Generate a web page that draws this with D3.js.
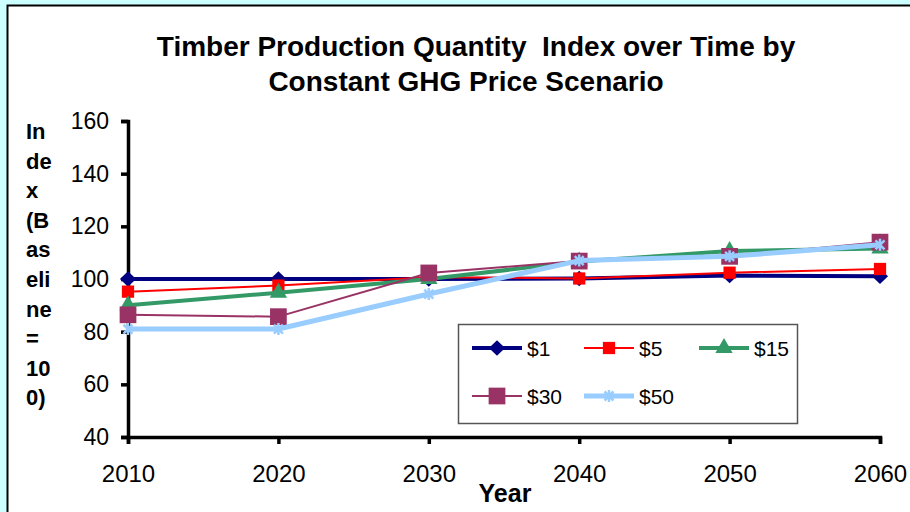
<!DOCTYPE html>
<html>
<head>
<meta charset="utf-8">
<script src="https://cdn.jsdelivr.net/npm/d3@7"></script>
<style>
  body { margin: 0; background: #ccffff; }
  svg { display: block; font-family: "Liberation Sans", Arial, sans-serif; }
</style>
</head>
<body>
<div id="chart"></div>
<script>
var years = [2010, 2020, 2030, 2040, 2050, 2060];
var seriesNames = ['$1', '$5', '$15', '$30', '$50'];
var s1 = [100, 100, 100, 100.2, 101.3, 101];
var s5 = [95.2, 97.5, 100.7, 100.2, 102.4, 103.8];
var s15 = [90, 94.8, 100, 106.6, 110.6, 111.6];
var s30 = [86.4, 85.7, 102.3, 106.8, 108.6, 114];
var s50 = [81, 81, 94.3, 107, 108.6, 113];
var yTicks = [40, 60, 80, 100, 120, 140, 160];
var yLabelLines = ['In', 'de', 'x', '(B', 'as', 'eli', 'ne', '=', '10', '0)'];

var width = 910, height = 512;

var styles = [
  {color: '#000080', lw: 4, marker: 'diamond', size: 150},
  {color: '#ff0000', lw: 2, marker: 'square', size: 150},
  {color: '#339966', lw: 4, marker: 'triangle', size: 130},
  {color: '#993366', lw: 2, marker: 'square', size: 280},
  {color: '#99ccff', lw: 5, marker: 'star', size: 12}
];
var allValues = [s1, s5, s15, s30, s50];

var svg = d3.select('#chart').append('svg')
    .attr('width', width)
    .attr('height', height);

// white chart area with border
svg.append('rect')
    .attr('x', 7.5).attr('y', 5.5)
    .attr('width', width + 20).attr('height', height + 20)
    .attr('fill', '#fff')
    .attr('stroke', '#000')
    .attr('stroke-width', 2);

var x = d3.scaleLinear().domain([2010, 2060]).range([128, 880]);
var y = d3.scaleLinear().domain([40, 160]).range([437, 121]);

// title
var title = svg.append('text')
    .attr('text-anchor', 'middle')
    .attr('font-weight', 'bold')
    .attr('font-size', 28);
title.append('tspan').attr('x', 476).attr('y', 56).text('Timber Production Quantity\u00a0 Index over Time by');
title.append('tspan').attr('x', 466).attr('y', 91).text('Constant GHG Price Scenario');

// y axis
var yAxis = svg.append('g')
    .attr('transform', 'translate(' + x(2010) + ',0)')
    .call(d3.axisLeft(y).tickValues(yTicks).tickSize(7).tickPadding(12));
yAxis.select('.domain').attr('stroke-width', 3.5);
yAxis.selectAll('.tick line').attr('stroke-width', 3.5);
yAxis.selectAll('text').attr('font-size', 23).attr('fill', '#000');

// x axis
var xAxis = svg.append('g')
    .attr('transform', 'translate(0,' + y(40) + ')')
    .call(d3.axisBottom(x).tickValues(years).tickFormat(d3.format('d')).tickSize(7).tickPadding(21));
xAxis.select('.domain').attr('stroke-width', 3.5);
xAxis.selectAll('.tick line').attr('stroke-width', 3.5);
xAxis.selectAll('text').attr('font-size', 24).attr('fill', '#000');

svg.append('text')
    .attr('x', 505).attr('y', 502)
    .attr('text-anchor', 'middle')
    .attr('font-weight', 'bold')
    .attr('font-size', 25)
    .text('Year');

var yl = svg.append('text')
    .attr('font-weight', 'bold')
    .attr('font-size', 22);
yLabelLines.forEach(function (t, i) {
  yl.append('tspan').attr('x', 26).attr('y', 139 + i * 29.6).text(t);
});

function drawMarker(g, st, cx, cy) {
  if (st.marker === 'star') {
    var r = st.size / 2;
    var a = r * 0.75;
    var p = 'M' + (cx - a) + ',' + (cy - a) + 'L' + (cx + a) + ',' + (cy + a) +
            'M' + (cx - a) + ',' + (cy + a) + 'L' + (cx + a) + ',' + (cy - a) +
            'M' + cx + ',' + (cy - r) + 'L' + cx + ',' + (cy + r);
    g.append('path').attr('d', p).attr('stroke', st.color).attr('stroke-width', 2.5).attr('fill', 'none');
    return;
  }
  var type = st.marker === 'diamond' ? d3.symbolDiamond2 : st.marker === 'square' ? d3.symbolSquare : d3.symbolTriangle;
  var sym = d3.symbol().type(type).size(st.size);
  var tr = 'translate(' + cx + ',' + cy + ')';
  if (st.marker === 'diamond') tr += ' scale(1.05,1)';
  g.append('path').attr('d', sym()).attr('transform', tr).attr('fill', st.color);
}

var line = d3.line()
    .x(function (d, i) { return x(years[i]); })
    .y(function (d) { return y(d); });

allValues.forEach(function (vals, k) {
  var st = styles[k];
  var g = svg.append('g');
  g.append('path')
      .attr('d', line(vals))
      .attr('fill', 'none')
      .attr('stroke', st.color)
      .attr('stroke-width', st.lw)
      .attr('stroke-linejoin', 'round');
  vals.forEach(function (v, i) {
    drawMarker(g, st, x(years[i]), y(v));
  });
});

// legend
var legend = svg.append('g');
legend.append('rect')
    .attr('x', 458.5).attr('y', 324.5)
    .attr('width', 339).attr('height', 99)
    .attr('fill', '#fff')
    .attr('stroke', '#555')
    .attr('stroke-width', 1.5);

var legPos = [[472, 348], [584, 348], [699, 348], [472, 396], [584, 396]];
seriesNames.forEach(function (name, k) {
  var st = styles[k];
  var px = legPos[k][0], py = legPos[k][1];
  var g = legend.append('g');
  g.append('line')
      .attr('x1', px).attr('x2', px + 50)
      .attr('y1', py).attr('y2', py)
      .attr('stroke', st.color)
      .attr('stroke-width', st.lw);
  drawMarker(g, st, px + 25, py);
  g.append('text')
      .attr('x', px + 55).attr('y', py + 8)
      .attr('font-size', 21)
      .text(name);
});
</script>
</body>
</html>
